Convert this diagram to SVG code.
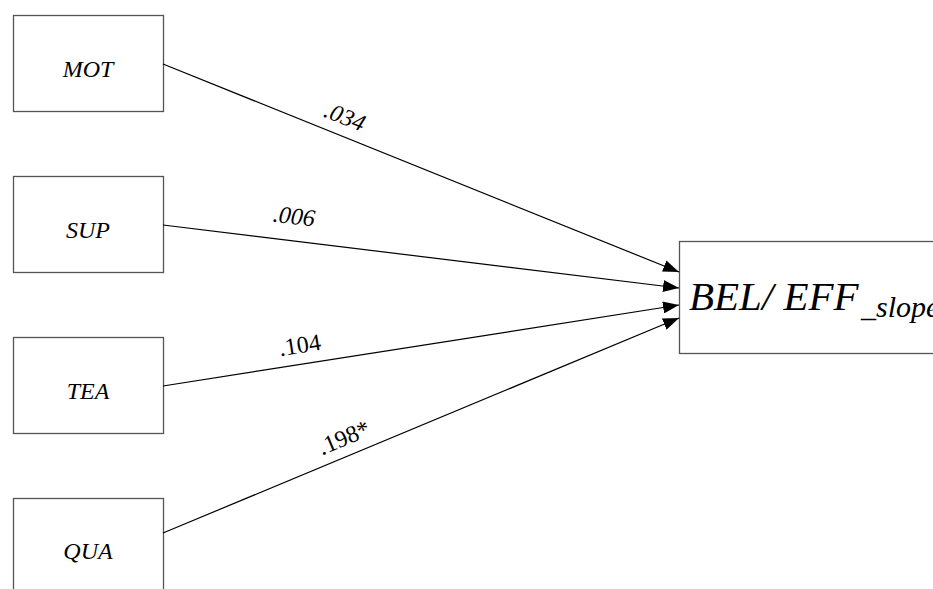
<svg xmlns="http://www.w3.org/2000/svg" width="933" height="589" viewBox="0 0 933 589">
  <style>
    .box { fill: #ffffff; stroke: #555555; stroke-width: 1.3; }
    .serif { font-family: "Liberation Serif", "Times New Roman", "DejaVu Serif", serif; fill: #000; }
    .lbl { font-style: italic; font-size: 24px; text-anchor: middle; }
    .edge { stroke: #000; stroke-width: 1.2; fill: none; marker-end: url(#arrow); }
    .coef { font-size: 24px; text-anchor: middle; }
    .it { font-style: italic; }
  </style>
  <defs>
    <marker id="arrow" viewBox="0 0 16 12" refX="16" refY="6" markerWidth="16" markerHeight="12" markerUnits="userSpaceOnUse" orient="auto">
      <path d="M0,0 L16,6 L0,12 Z" fill="#000"/>
    </marker>
  </defs>
  <rect width="933" height="589" fill="#ffffff"/>

  <!-- predictor nodes -->
  <g id="MOT">
    <rect class="box" x="13.5" y="15.5" width="150" height="96"/>
    <text class="serif lbl" x="88" y="77">MOT</text>
  </g>
  <g id="SUP">
    <rect class="box" x="13.5" y="176.5" width="150" height="96"/>
    <text class="serif lbl" x="88" y="238">SUP</text>
  </g>
  <g id="TEA">
    <rect class="box" x="13.5" y="337.5" width="150" height="96"/>
    <text class="serif lbl" x="88" y="399">TEA</text>
  </g>
  <g id="QUA">
    <rect class="box" x="13.5" y="498.5" width="150" height="120"/>
    <text class="serif lbl" x="88" y="559">QUA</text>
  </g>

  <!-- outcome node -->
  <g id="BEL_EFF">
    <rect class="box" x="679.5" y="241.5" width="300" height="112"/>
    <text class="serif it" x="689" y="310" font-size="41">BEL/ EFF<tspan x="861" dy="7" font-size="30">_slope</tspan></text>
  </g>

  <!-- paths with coefficients -->
  <g id="connectors">
    <line class="edge" x1="163" y1="64" x2="679" y2="272"/>
    <line class="edge" x1="163" y1="225" x2="679" y2="288"/>
    <line class="edge" x1="163" y1="386" x2="679" y2="305"/>
    <line class="edge" x1="163" y1="533" x2="679" y2="318"/>
    <text class="serif coef it" transform="translate(342,124) rotate(22)">.034</text>
    <text class="serif coef it" transform="translate(293,224) rotate(7)">.006</text>
    <text class="serif coef" transform="translate(301,353) rotate(-9)">.104</text>
    <text class="serif coef" transform="translate(347,445) rotate(-22.7)">.198*</text>
  </g>
</svg>
